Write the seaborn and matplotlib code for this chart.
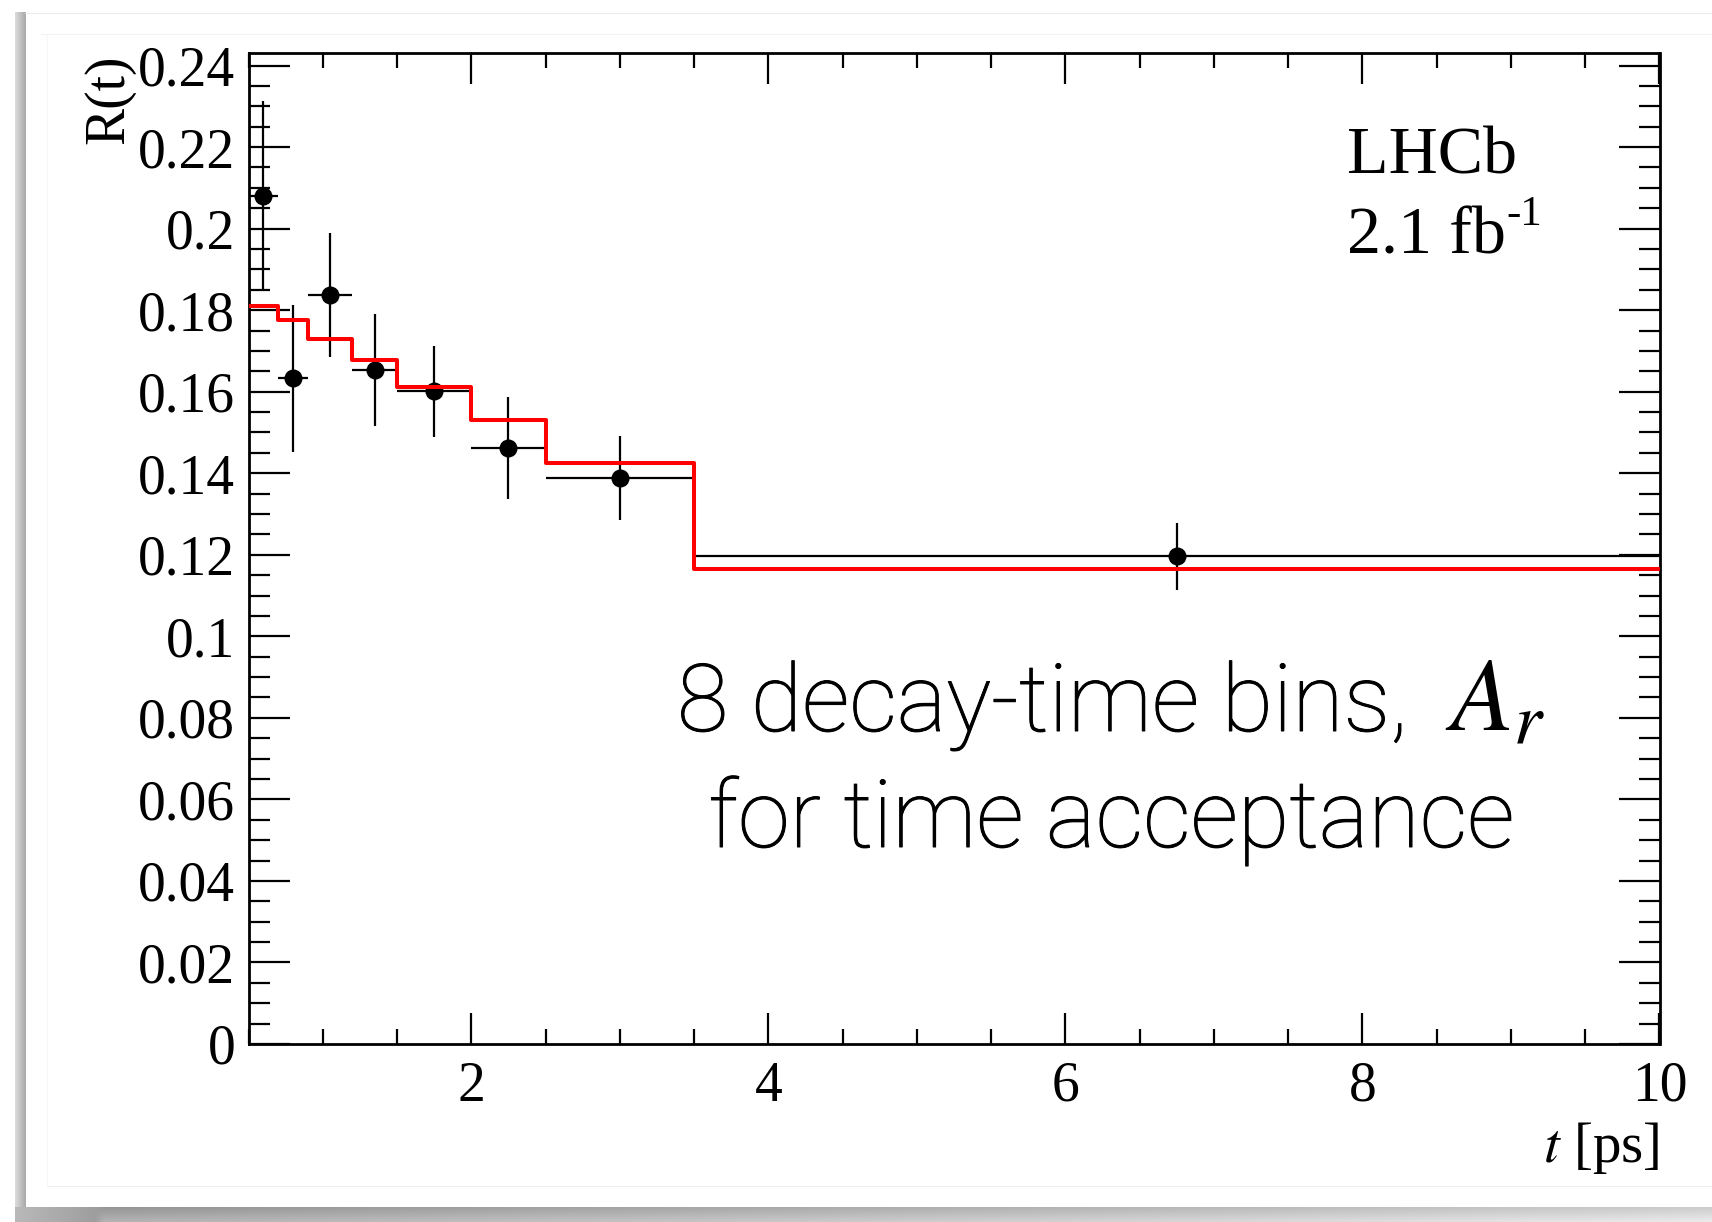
import numpy as np
import pandas as pd
import matplotlib
matplotlib.use("Agg")
import matplotlib.pyplot as plt
import matplotlib.patheffects as pe
import seaborn as sns
from matplotlib.ticker import MultipleLocator, FuncFormatter

# ---------------- data ----------------
bin_edges = [0.5, 0.7, 0.9, 1.2, 1.5, 2.0, 2.5, 3.5, 10.0]
data_ratio = [0.2080, 0.1633, 0.1838, 0.1653, 0.1601, 0.1461, 0.1389, 0.1196]
data_error = [0.0233, 0.0180, 0.0152, 0.0138, 0.0112, 0.0125, 0.0103, 0.0083]
fit_ratio = [0.1810, 0.1775, 0.1730, 0.1678, 0.1611, 0.1530, 0.1424, 0.1164]

x_limits = (0.5, 10.0)
y_limits = (0.0, 0.2432)
x_label = r"$t$ [ps]"
y_label = "R(t)"
experiment_label = "LHCb"
lumi_label = "2.1 fb"
lumi_exponent = "-1"
note_line1 = "8 decay-time bins,"
note_symbol = r"$A_r$"
note_line2 = "for time acceptance"

# ---------------- derived tables ----------------
lo = np.array(bin_edges[:-1])
hi = np.array(bin_edges[1:])
centers = (lo + hi) / 2
half_w = (hi - lo) / 2
points = pd.DataFrame({"t": centers, "R": data_ratio, "err": data_error, "xerr": half_w})
fit_step = pd.DataFrame({"t": bin_edges, "R": fit_ratio + [fit_ratio[-1]]})

# ---------------- style ----------------
sns.set_theme(style="ticks")
plt.rcParams["font.family"] = ["Liberation Serif", "DejaVu Serif"]
plt.rcParams["mathtext.fontset"] = "stix"
plt.rcParams["text.color"] = "black"
plt.rcParams["axes.labelcolor"] = "black"

W, H = 1712, 1222
fig = plt.figure(figsize=(W / 100, H / 100), dpi=100, facecolor="white")

def fx(x):
    return x / W

def fy(y):
    return 1 - y / H

# background "card" with drop shadow (decoration, pixel coordinates)
bg = fig.add_axes([0, 0, 1, 1], zorder=-5)
bg.set_xlim(0, W)
bg.set_ylim(H, 0)
bg.axis("off")
left_grad = np.linspace(0.86, 0.66, 40)[None, :]
bg.imshow(left_grad, extent=[15, 25.5, 1222, 12], cmap="gray", vmin=0, vmax=1,
          aspect="auto", interpolation="bilinear")
gx = np.linspace(0, 1, 200)
gy = np.linspace(0, 1, 20)
bot = 0.58 + 0.22 * gx[None, :] ** 1.2 + 0.12 * gy[:, None]
bot[:, :10] = bot[:, :10] * 0 + np.linspace(0.72, 0.62, 10)[None, :]
bg.imshow(bot, extent=[15, W, 1222, 1207.5], cmap="gray", vmin=0, vmax=1,
          aspect="auto", interpolation="bilinear")
bg.plot([25, W], [12.5, 12.5], color="#ececec", lw=0.8)
bg.plot([41, W], [34, 34], color="#f2f2f2", lw=0.8)
bg.plot([47, W], [1186, 1186], color="#eeeeee", lw=0.8)
bg.plot([47, 47], [34, 1186], color="#f6f6f6", lw=0.8)

# main axes
ax_l, ax_r, ax_t, ax_b = 248.5, 1659.5, 52.5, 1044
ax = fig.add_axes([fx(ax_l), fy(ax_b), fx(ax_r - ax_l), (ax_b - ax_t) / H])
ax.set_facecolor("none")

# data points with error bars
ax.errorbar(points["t"], points["R"], xerr=points["xerr"], yerr=points["err"],
            fmt="none", ecolor="black", elinewidth=1.6, capsize=0, zorder=2)
sns.scatterplot(data=points, x="t", y="R", ax=ax, color="black", s=13 ** 2,
                linewidth=0, zorder=3, legend=False)
# fitted step histogram
sns.lineplot(data=fit_step, x="t", y="R", ax=ax, color="#ff0000", lw=2.9,
             drawstyle="steps-post", estimator=None, sort=False, zorder=4)

ax.set_xlim(*x_limits)
ax.set_ylim(*y_limits)
ax.xaxis.set_major_locator(MultipleLocator(2))
ax.xaxis.set_minor_locator(MultipleLocator(0.5))
ax.yaxis.set_major_locator(MultipleLocator(0.02))
ax.yaxis.set_minor_locator(MultipleLocator(0.005))
ax.yaxis.set_major_formatter(FuncFormatter(lambda v, p: f"{round(v, 4):g}"))
ax.xaxis.set_major_formatter(FuncFormatter(lambda v, p: f"{round(v, 4):g}"))

for s in ax.spines.values():
    s.set_linewidth(2.0)
    s.set_color("black")
    s.set_visible(True)

ax.tick_params(axis="both", which="both", direction="in", top=True, right=True,
               colors="black", labelsize=40)
ax.tick_params(axis="y", which="major", length=29.5, width=1.6, pad=9.5)
ax.tick_params(axis="y", which="minor", length=15, width=1.6)
ax.tick_params(axis="x", which="major", length=22, width=1.6, pad=12)
ax.tick_params(axis="x", which="minor", length=11, width=1.6)

ax.set_xlabel(x_label, fontsize=41, loc="right")
ax.xaxis.set_label_coords(1.0, -0.0767)
ax.xaxis.label.set_va("top")
ax.set_ylabel(y_label, fontsize=40, loc="top")
ax.yaxis.set_label_coords((109 - ax_l) / (ax_r - ax_l), 0.9975)
ax.yaxis.label.set_va("center")
ax.yaxis.label.set_ha("right")

# LHCb labels
def axx(x):
    return (x - ax_l) / (ax_r - ax_l)

def axy(y):
    return (ax_b - y) / (ax_b - ax_t)

ax.text(axx(1347), axy(173), experiment_label, transform=ax.transAxes,
        fontsize=49, ha="left", va="baseline")
ax.text(axx(1347), axy(253), lumi_label, transform=ax.transAxes,
        fontsize=49, ha="left", va="baseline")
ax.text(axx(1506), axy(225), lumi_exponent, transform=ax.transAxes,
        fontsize=31, ha="left", va="baseline")

# annotation
sans = ["Roboto", "Open Sans", "Lato", "DejaVu Sans"]
thicken = [pe.withStroke(linewidth=0.7, foreground="black")]
fig.text(fx(677), fy(731), note_line1, ha="left", va="baseline", fontsize=67.5,
         family=sans, fontweight="light", color="black", path_effects=thicken)
fig.text(fx(1445), fy(731), note_symbol, ha="left", va="baseline", fontsize=74,
         color="black")
fig.text(fx(1111.5), fy(847), note_line2, ha="center", va="baseline", fontsize=67.5,
         family=sans, fontweight="light", color="black", path_effects=thicken)

fig.savefig("out.png", dpi=100, facecolor="white")
